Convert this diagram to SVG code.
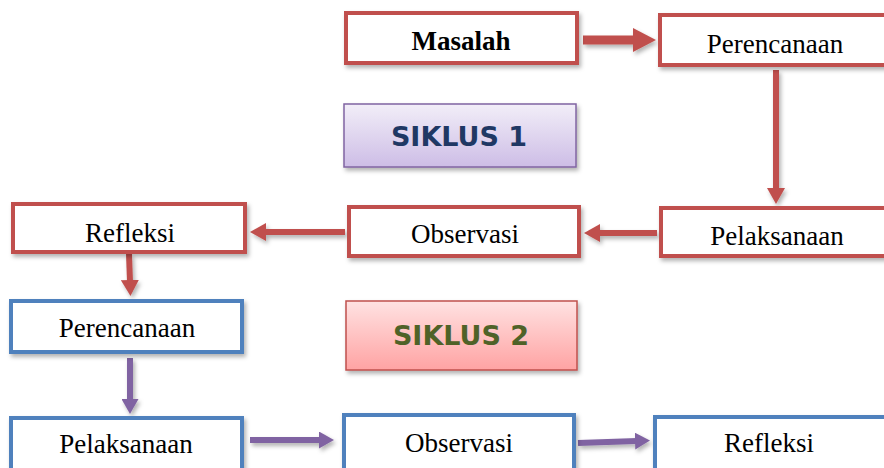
<svg xmlns="http://www.w3.org/2000/svg" width="884" height="468" viewBox="0 0 884 468">
<style>
.red{fill:#fff;stroke:#C0504D;stroke-width:4}
.blue{fill:#fff;stroke:#4F81BD;stroke-width:4}
.t{font-family:"Liberation Serif","Times New Roman",serif;font-size:27px;fill:#000;text-anchor:middle}
.tb{font-weight:bold}
.s{font-family:"DejaVu Sans",sans-serif;font-weight:bold;font-size:27px;text-anchor:middle}
.ar{stroke:#C0504D;stroke-width:6;fill:none}
.ap{stroke:#8064A2;stroke-width:6;fill:none}
</style>
<defs>
<marker id="mr" markerWidth="17" markerHeight="18" refX="2" refY="9" orient="auto" markerUnits="userSpaceOnUse"><path d="M0,0 L16,9 L0,18 Z" fill="#C0504D"/></marker>
<marker id="mb" markerWidth="24" markerHeight="24" refX="2" refY="12" orient="auto" markerUnits="userSpaceOnUse"><path d="M0,0 L23,12 L0,24 Z" fill="#C0504D"/></marker>
<marker id="mp" markerWidth="16" markerHeight="17" refX="2" refY="8.5" orient="auto" markerUnits="userSpaceOnUse"><path d="M0,0 L15,8.5 L0,17 Z" fill="#8064A2"/></marker>
<linearGradient id="g1" x1="0" y1="0" x2="0" y2="1"><stop offset="0" stop-color="#F2EEF8"/><stop offset="1" stop-color="#CDBDE6"/></linearGradient>
<linearGradient id="g2" x1="0" y1="0" x2="0" y2="1"><stop offset="0" stop-color="#FFE2E2"/><stop offset="1" stop-color="#FFA3A3"/></linearGradient>
<filter id="sh" x="-10%" y="-20%" width="130%" height="160%"><feDropShadow dx="2" dy="3" stdDeviation="2" flood-color="#000" flood-opacity="0.3"/></filter>
</defs>
<g id="connectors" filter="url(#sh)">
<line x1="583" y1="40" x2="635" y2="40" stroke="#C0504D" stroke-width="9" marker-end="url(#mb)"/>
<line class="ar" x1="776" y1="70" x2="776" y2="190" marker-end="url(#mr)"/>
<line class="ar" x1="657" y1="233" x2="598" y2="233" marker-end="url(#mr)"/>
<line class="ar" x1="345" y1="232" x2="264" y2="232" marker-end="url(#mr)"/>
<line class="ar" x1="129" y1="254" x2="130" y2="282" marker-end="url(#mr)"/>
<line class="ap" x1="130" y1="358" x2="130" y2="401" marker-end="url(#mp)"/>
<line class="ap" x1="250" y1="440" x2="321" y2="440" marker-end="url(#mp)"/>
<line class="ap" x1="578" y1="443" x2="637" y2="441" marker-end="url(#mp)"/>
</g>
<g id="masalah"><rect class="red" x="346" y="13" width="231" height="50" filter="url(#sh)"/><text class="t tb" x="461" y="50">Masalah</text></g>
<g id="perencanaan1"><rect class="red" x="660" y="15" width="230" height="50" filter="url(#sh)"/><text class="t" x="775" y="53">Perencanaan</text></g>
<g id="siklus1"><rect x="344" y="104" width="232" height="63" fill="url(#g1)" stroke="#8064A2" stroke-width="1.5" filter="url(#sh)"/><text class="s" x="459" y="146" fill="#1F3864">SIKLUS 1</text></g>
<g id="pelaksanaan1"><rect class="red" x="661" y="208" width="229" height="48" filter="url(#sh)"/><text class="t" x="777" y="245">Pelaksanaan</text></g>
<g id="observasi1"><rect class="red" x="349" y="207" width="230" height="49" filter="url(#sh)"/><text class="t" x="465" y="243">Observasi</text></g>
<g id="refleksi1"><rect class="red" x="13" y="204" width="232" height="48" filter="url(#sh)"/><text class="t" x="130" y="242">Refleksi</text></g>
<g id="perencanaan2"><rect class="blue" x="11" y="301" width="231" height="51" filter="url(#sh)"/><text class="t" x="127" y="337">Perencanaan</text></g>
<g id="siklus2"><rect x="346" y="301" width="231" height="69" fill="url(#g2)" stroke="#C0504D" stroke-width="1.5" filter="url(#sh)"/><text class="s" x="461" y="345" fill="#4F6228">SIKLUS 2</text></g>
<g id="pelaksanaan2"><rect class="blue" x="11" y="418" width="231" height="56" filter="url(#sh)"/><text class="t" x="126" y="453">Pelaksanaan</text></g>
<g id="observasi2"><rect class="blue" x="344" y="415" width="230" height="59" filter="url(#sh)"/><text class="t" x="459" y="452">Observasi</text></g>
<g id="refleksi2"><rect class="blue" x="655" y="417" width="235" height="57" filter="url(#sh)"/><text class="t" x="769" y="452">Refleksi</text></g>
</svg>
